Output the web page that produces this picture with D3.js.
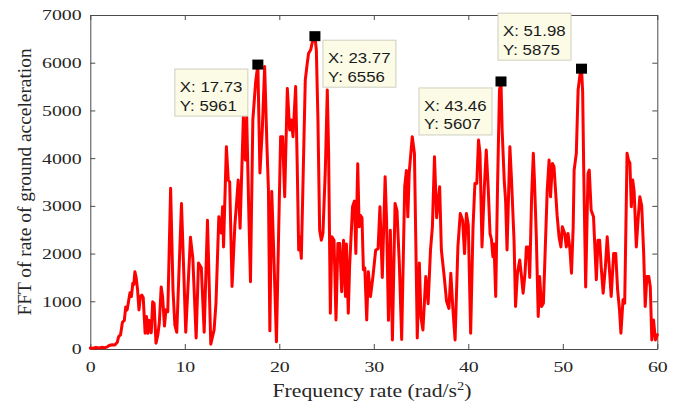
<!DOCTYPE html>
<html>
<head>
<meta charset="utf-8">
<script src="https://cdn.jsdelivr.net/npm/d3@7"></script>
<style>
  html, body { margin: 0; padding: 0; background: #ffffff; }
  svg { display: block; }
</style>
</head>
<body>
<svg id="chart" width="680" height="405"></svg>
<script>
// Spectrum samples: frequency rate (rad/s^2) and FFT amplitude
const freq = [
  0, 0.3, 0.6, 0.9, 1.2, 1.5, 1.8, 2.0, 2.3, 2.6, 2.85, 3.0, 3.2, 3.4, 3.6, 3.75, 3.9, 4.05, 4.2, 4.35,
  4.5, 4.6, 4.72, 4.85, 5.0, 5.15, 5.3, 5.45, 5.6, 5.8, 5.95, 6.1, 6.25, 6.45, 6.6, 6.75, 6.95, 7.15, 7.3, 7.5,
  7.65, 7.85, 8.0, 8.2, 8.5, 8.75, 8.95, 9.15, 9.65, 10.1, 10.6, 10.85, 11.2, 11.45, 11.75, 12.05, 12.4, 12.75, 13.1, 13.3,
  13.6, 13.85, 14.0, 14.1, 14.4, 14.6, 14.75, 15.0, 15.3, 15.5, 15.65, 15.85, 16.0, 16.2, 16.4, 16.55, 16.78, 16.95, 17.2, 17.5,
  17.73, 17.95, 18.2, 18.45, 18.7, 18.85, 19.0, 19.2, 19.4, 19.7, 19.9, 20.14, 20.35, 20.57, 20.85, 21.1, 21.27, 21.45, 21.73, 21.9,
  22.05, 22.15, 22.33, 22.6, 22.75, 22.96, 23.1, 23.32, 23.55, 23.77, 23.92, 24.09, 24.27, 24.45, 24.62, 24.87, 25.08, 25.22, 25.4, 25.57,
  25.79, 26.0, 26.2, 26.4, 26.6, 26.8, 27.0, 27.1, 27.3, 27.44, 27.75, 27.95, 28.1, 28.3, 28.45, 28.6, 28.75, 28.9, 29.05, 29.25,
  29.42, 29.65, 29.9, 30.2, 30.45, 30.65, 30.9, 31.2, 31.35, 31.55, 31.75, 31.97, 32.25, 32.45, 32.7, 32.95, 33.27, 33.45, 33.6, 33.75,
  34.07, 34.3, 34.45, 34.6, 34.82, 35.0, 35.2, 35.5, 35.75, 36.0, 36.2, 36.42, 36.65, 36.97, 37.15, 37.45, 37.7, 37.95, 38.15, 38.35,
  38.6, 38.9, 39.15, 39.4, 39.6, 39.8, 40.0, 40.25, 40.5, 40.7, 40.9, 41.08, 41.24, 41.45, 41.7, 41.9, 42.1, 42.3, 42.45, 42.6,
  42.72, 42.9, 43.1, 43.3, 43.46, 43.58, 43.8, 43.95, 44.1, 44.4, 44.56, 44.84, 45.0, 45.2, 45.44, 45.6, 45.8, 46.0, 46.15, 46.35,
  46.5, 46.7, 46.88, 47.0, 47.2, 47.4, 47.55, 47.75, 47.95, 48.15, 48.35, 48.55, 48.7, 48.9, 49.07, 49.25, 49.4, 49.6, 49.8, 49.95,
  50.2, 50.37, 50.55, 50.75, 50.92, 51.1, 51.2, 51.43, 51.62, 51.85, 51.98, 52.1, 52.22, 52.42, 52.67, 52.8, 53.0, 53.25, 53.55, 53.72,
  53.9, 54.07, 54.27, 54.5, 54.7, 54.96, 55.12, 55.38, 55.6, 55.8, 56.0, 56.15, 56.37, 56.55, 56.8, 56.95, 57.1, 57.25, 57.4, 57.55,
  57.78, 57.96, 58.15, 58.35, 58.56, 58.72, 58.9, 59.1, 59.26, 59.42, 59.6, 59.8, 60.0
];

const amplitude = [
  20, 15, 30, 20, 35, 25, 45, 75, 90, 85, 140, 260, 300, 560, 600, 880, 820, 1000, 1180, 1100,
  1380, 1350, 1620, 1500, 1250, 820, 1100, 1130, 1080, 330, 680, 330, 600, 340, 990, 960, 120, 300, 540, 1300,
  1100, 480, 820, 780, 3370, 1240, 500, 350, 3050, 350, 2340, 1900, 230, 1800, 1700, 350, 2700, 100, 400, 960,
  2770, 2430, 2980, 2140, 4240, 3540, 3500, 1310, 2600, 3120, 3540, 2530, 3540, 4870, 3960, 4870, 2800, 1410, 4800, 5600,
  5961, 3690, 4590, 5920, 4200, 3350, 380, 3300, 2100, 150, 2140, 4450, 4450, 3190, 5460, 4590, 4800, 4450, 5500, 3820,
  2075, 2350, 1900, 4310, 5640, 5990, 6200, 6270, 6480, 6556, 6270, 4800, 2490, 2280, 2430, 3750, 5430, 4100, 750, 2350,
  2280, 610, 2210, 2210, 1200, 2280, 1100, 2200, 750, 1730, 2980, 3100, 2000, 3880, 2560, 2800, 2750, 1660, 1700, 610,
  1620, 1100, 1500, 2075, 2100, 2980, 1500, 3610, 2700, 600, 2490, 190, 3050, 2900, 1800, 200, 3400, 3740, 2770, 3700,
  4450, 4100, 2200, 230, 1800, 650, 400, 1520, 950, 2075, 2560, 4030, 2750, 3400, 2075, 1520, 1000, 850, 1590, 900,
  190, 2140, 2840, 2700, 2000, 2840, 2600, 330, 2560, 3470, 3470, 4380, 4100, 2140, 3400, 4170, 3400, 2420, 2300, 1935,
  2200, 1100, 3470, 5430, 5607, 4590, 3540, 3100, 2075, 4240, 3610, 2280, 890, 1580, 1865, 1580, 1170, 1580, 2140, 2140,
  1500, 3190, 4100, 3540, 2350, 680, 1520, 890, 960, 2140, 3330, 3960, 3190, 3890, 3820, 3260, 2800, 2350, 2140, 2560,
  2420, 2140, 2420, 2100, 1590, 2560, 3750, 4100, 5430, 5800, 5875, 5400, 3680, 1300, 3680, 3750, 2910, 2770, 1450, 2280,
  2280, 1700, 1170, 1700, 2350, 1590, 1100, 2000, 2000, 1240, 820, 330, 1030, 960, 4100, 3960, 3900, 2980, 3540, 3300,
  2140, 2700, 3190, 3000, 2000, 890, 1520, 1520, 1300, 190, 610, 190, 300
];

// Data tips shown on the main peaks
const tipFreq = [17.73, 23.77, 43.46, 51.98];
const tipAmp = [5961, 6556, 5607, 5875];

// Axis ticks
const xTicks = [0, 10, 20, 30, 40, 50, 60];
const yTicks = [0, 1000, 2000, 3000, 4000, 5000, 6000, 7000];

const xLabel = "Frequency rate (rad/s";
const xLabelSup = "2";
const yLabel = "FFT of rate of ground acceleration";

// ---- layout ----
const plot = { left: 90.3, right: 657.3, top: 15, bottom: 349 };
const axisColor = "#4a4a4a";
const textColor = "#262626";
const serif = "'Liberation Serif', 'Times New Roman', serif";
const sans = "'Liberation Sans', Arial, Helvetica, sans-serif";
const tickStretch = 1.28;

const svg = d3.select("#chart");

const x = d3.scaleLinear().domain([0, 60]).range([plot.left, plot.right]);
const y = d3.scaleLinear().domain([0, 7000]).range([plot.bottom, plot.top]);

// ---- axes (inward ticks on all four sides) ----
function styleAxis(g) {
  g.select(".domain").attr("stroke", axisColor).attr("stroke-width", 1);
  g.selectAll(".tick line").attr("stroke", axisColor).attr("stroke-width", 1);
}

const gx = svg.append("g")
  .attr("transform", `translate(0,${plot.bottom})`)
  .call(d3.axisBottom(x).tickValues(xTicks).tickSize(-5).tickSizeOuter(0).tickPadding(12).tickFormat(d3.format("d")));
styleAxis(gx);
gx.selectAll(".tick text")
  .attr("fill", textColor)
  .style("font-family", serif)
  .style("font-size", "15.5px")
  .attr("transform", `scale(${tickStretch},1)`);

const gy = svg.append("g")
  .attr("transform", `translate(${plot.left},0)`)
  .call(d3.axisLeft(y).tickValues(yTicks).tickSize(-5).tickSizeOuter(0).tickPadding(8.6).tickFormat(d3.format("d")));
styleAxis(gy);
gy.selectAll(".tick text")
  .attr("fill", textColor)
  .attr("x", 0)
  .style("font-family", serif)
  .style("font-size", "15.5px")
  .attr("transform", `translate(-8.6,0) scale(${tickStretch},1)`);

const gxTop = svg.append("g")
  .attr("transform", `translate(0,${plot.top})`)
  .call(d3.axisTop(x).tickValues(xTicks).tickSize(-5).tickSizeOuter(0).tickFormat(""));
styleAxis(gxTop);

const gyRight = svg.append("g")
  .attr("transform", `translate(${plot.right},0)`)
  .call(d3.axisRight(y).tickValues(yTicks).tickSize(-5).tickSizeOuter(0).tickFormat(""));
styleAxis(gyRight);

// ---- spectrum line ----
const points = freq.map((f, i) => [f, amplitude[i]]);
const line = d3.line().x(d => x(d[0])).y(d => y(d[1]));

svg.append("path")
  .datum(points)
  .attr("d", line)
  .attr("fill", "none")
  .attr("stroke", "#ff0000")
  .attr("stroke-width", 3)
  .attr("stroke-linejoin", "round")
  .attr("stroke-linecap", "round");

// ---- axis titles ----
const xt = svg.append("text")
  .attr("text-anchor", "middle")
  .attr("fill", textColor)
  .style("font-family", serif)
  .style("font-size", "18px");
xt.append("tspan").text(xLabel);
xt.append("tspan").text(xLabelSup).attr("dy", -7).style("font-size", "12px");
xt.append("tspan").text(")").attr("dy", 7);
{
  const w = xt.node().getBBox().width;
  const s = 199 / w;
  xt.attr("transform", `translate(372,397) scale(${s},1)`);
}

const yt = svg.append("text")
  .attr("text-anchor", "middle")
  .attr("fill", textColor)
  .style("font-family", serif)
  .style("font-size", "19px")
  .text(yLabel);
{
  const w = yt.node().getBBox().width;
  const s = 268 / w;
  yt.attr("transform", `translate(31,182) rotate(-90) scale(${s},1)`);
}

// ---- data tips ----
// box placement relative to the marked point: side of the marker and vertical offset
const tipLayout = [
  { side: "left", dx: 10, dy: 4.5 },
  { side: "right", dx: 8, dy: 4 },
  { side: "left", dx: 9, dy: 6.5 },
  { side: "left", dx: 10.5, dy: -55.5 }
];
const boxW = 73, boxH = 47;

tipFreq.forEach((f, i) => {
  const px = x(f), py = y(tipAmp[i]);
  const L = tipLayout[i];
  const bx = L.side === "left" ? px - L.dx - boxW : px + L.dx;
  const by = py + L.dy;
  const g = svg.append("g");
  g.append("rect")
    .attr("x", bx).attr("y", by)
    .attr("width", boxW).attr("height", boxH)
    .attr("fill", "#fbfbe6")
    .attr("stroke", "#cfcfbf")
    .attr("stroke-width", 1);
  const lines = ["X: " + f.toFixed(2), "Y: " + tipAmp[i]];
  lines.forEach((t, k) => {
    g.append("text")
      .attr("transform", `translate(${bx + 5},${by + 23 + k * 18.5}) scale(1.2,1)`)
      .attr("fill", "#1a1a1a")
      .style("font-family", sans)
      .style("font-size", "14px")
      .text(t);
  });
  // marker square at the peak
  svg.append("rect")
    .attr("x", px - 5.5).attr("y", py - 5)
    .attr("width", 11).attr("height", 10)
    .attr("fill", "#000000");
});
</script>
</body>
</html>
